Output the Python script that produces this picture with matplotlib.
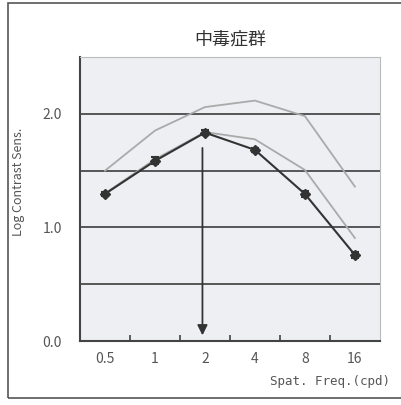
import numpy as np
import matplotlib.pyplot as plt
from matplotlib.patches import Rectangle

plt.rcParams['font.family'] = ['Noto Sans CJK JP', 'DejaVu Sans']

# data
freq_labels = ['0.5', '1', '2', '4', '8', '16']
patient     = [1.295, 1.586, 1.835, 1.683, 1.295, 0.758]
patient_err = [0.02, 0.03, 0.02, 0.02, 0.03, 0.03]
normal_hi   = [1.50, 1.853, 2.06, 2.117, 1.98, 1.36]
normal_lo   = [1.30, 1.60, 1.84, 1.776, 1.506, 0.907]
peak_idx    = 2
y_ticks     = [0.0, 1.0, 2.0]
grid_levels = [0.5, 1.0, 1.5, 2.0]

x = np.arange(len(freq_labels))

fig = plt.figure(figsize=(4.02, 4.05), dpi=100)
fig.patches.append(Rectangle((0.02, 0.017), 1.2, 0.976, transform=fig.transFigure,
                             fill=False, edgecolor='#555555', linewidth=1.2))

ax = fig.add_axes([0.199, 0.158, 0.746, 0.701])
ax.set_facecolor('#eeeff3')

for g in grid_levels:
    ax.axhline(g, color='#555555', linewidth=1.4, zorder=1)

ax.plot(x, normal_hi, color='#aaaaaa', linewidth=1.3, zorder=2)
ax.plot(x, normal_lo, color='#aaaaaa', linewidth=1.3, zorder=2)
ax.errorbar(x, patient, yerr=patient_err, color='#333333', linewidth=1.5,
            marker='D', markersize=5, capsize=3, capthick=1.5, elinewidth=1.5,
            zorder=4)

# arrow marking the peak frequency
ax.annotate('', xy=(peak_idx - 0.05, 0.05), xytext=(peak_idx - 0.05, 1.70),
            arrowprops=dict(arrowstyle='-|>', color='#333333', lw=1.3,
                            mutation_scale=15, shrinkA=0, shrinkB=0),
            zorder=3)

ax.set_xlim(-0.5, len(x) - 0.5)
ax.set_ylim(0, 2.5)

ax.set_xticks(x)
ax.set_xticklabels(freq_labels)
ax.set_xticks(x[:-1] + 0.5, minor=True)
ax.tick_params(axis='x', which='major', length=0, pad=8, labelsize=10,
               labelcolor='#555555')
ax.tick_params(axis='x', which='minor', direction='in', length=4,
               color='#444444', width=1.2)
ax.set_yticks(y_ticks)
ax.set_yticklabels([f'{v:.1f}' for v in y_ticks])
ax.tick_params(axis='y', length=0, pad=13, labelsize=10, labelcolor='#555555')

for side in ['top', 'right']:
    ax.spines[side].set_color('#bbbbbb')
for side in ['left', 'bottom']:
    ax.spines[side].set_color('#444444')
    ax.spines[side].set_linewidth(1.5)

ax.set_title('中毒症群', fontsize=13, color='#333333', pad=9)
ax.set_ylabel('Log Contrast Sens.', fontsize=9, color='#555555')
ax.yaxis.set_label_coords(-0.183, 0.56)
fig.text(0.97, 0.058, 'Spat. Freq.(cpd)', ha='right', va='center',
         fontsize=9, color='#555555', family=['DejaVu Sans Mono'])

fig.savefig('out.png', dpi=100)
